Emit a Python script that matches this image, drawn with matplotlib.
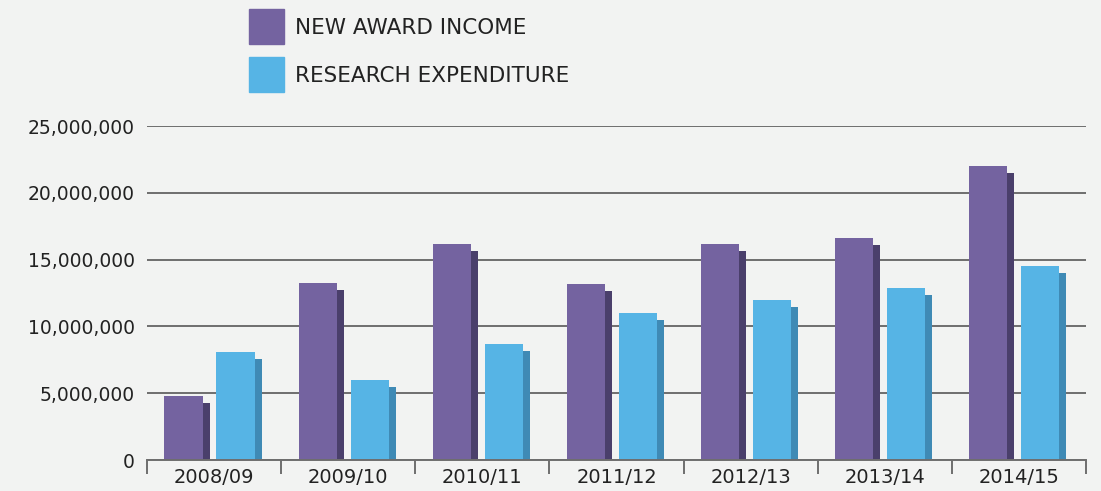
import matplotlib.pyplot as plt
from matplotlib.patches import Rectangle
from matplotlib.ticker import FuncFormatter, FixedLocator
import numpy as np

# Data
years = ["2008/09", "2009/10", "2010/11", "2011/12", "2012/13", "2013/14", "2014/15"]
new_award_income = [4.8e6, 13.25e6, 16.2e6, 13.2e6, 16.2e6, 16.6e6, 22.0e6]
research_expenditure = [8.1e6, 6.0e6, 8.7e6, 11.0e6, 12.0e6, 12.9e6, 14.5e6]
series_labels = ["NEW AWARD INCOME", "RESEARCH EXPENDITURE"]

BG = "#f2f3f2"
PURPLE, PURPLE_DARK = "#7463a0", "#4a3f6b"
BLUE, BLUE_DARK = "#56b4e5", "#3f8ab5"
GRID = "#6e6e6e"
TEXT = "#222222"

BAR_W = 0.284     # front face width (category units)
SIDE_W = 0.052    # shaded side width
SHADOW_DROP = 0.52e6  # side face starts slightly below the front top

plt.rcParams["font.family"] = ["DejaVu Sans"]

W, H = 1101, 491
fig = plt.figure(figsize=(W / 100, H / 100), dpi=100, facecolor=BG)
ax = fig.add_axes([147 / W, 31 / H, (1086 - 147) / W, (460 - 126) / H])
ax.set_facecolor(BG)

x = np.arange(len(years))
inc = np.array(new_award_income)
exp = np.array(research_expenditure)

# purple: side face then front face
ax.bar(x - 0.086, inc - SHADOW_DROP, width=SIDE_W, align="edge", color=PURPLE_DARK, zorder=3)
ax.bar(x - 0.370, inc, width=BAR_W, align="edge", color=PURPLE, zorder=3)
# blue
ax.bar(x + 0.302, exp - SHADOW_DROP, width=SIDE_W, align="edge", color=BLUE_DARK, zorder=3)
ax.bar(x + 0.018, exp, width=BAR_W, align="edge", color=BLUE, zorder=3)

ax.set_xlim(-0.5, len(years) - 0.5)
ax.set_ylim(0, 25e6)
ax.set_yticks(np.arange(0, 25e6 + 1, 5e6))
ax.yaxis.set_major_formatter(FuncFormatter(lambda v, p: f"{int(v):,}"))
ax.grid(axis="y", color=GRID, lw=1.4, zorder=1)
ax.tick_params(axis="y", length=0, pad=9, labelsize=13.5, labelcolor=TEXT)

# category separators as major ticks, labels on minor ticks
ax.xaxis.set_major_locator(FixedLocator(np.arange(-0.5, len(years), 1.0)))
ax.xaxis.set_major_formatter(FuncFormatter(lambda v, p: ""))
ax.xaxis.set_minor_locator(FixedLocator(x))
ax.set_xticklabels(years, minor=True)
ax.tick_params(axis="x", which="major", length=10, width=1.4, color=GRID)
ax.tick_params(axis="x", which="minor", length=0, pad=6, labelsize=14, labelcolor=TEXT)

for s in ["top", "right", "left"]:
    ax.spines[s].set_visible(False)
ax.spines["bottom"].set_color(GRID)
ax.spines["bottom"].set_linewidth(1.4)
ax.spines["bottom"].set_zorder(4)

# legend: square swatches with labels, placed in figure pixels
for i, (lab, col) in enumerate(zip(series_labels, [PURPLE, BLUE])):
    top = 9 + i * 48
    fig.add_artist(Rectangle((249 / W, 1 - (top + 35) / H), 35 / W, 35 / H,
                             transform=fig.transFigure, color=col))
    fig.text(295 / W, 1 - (top + 17.5) / H, lab, fontsize=15.5, color=TEXT,
             ha="left", va="center_baseline")

fig.savefig("out.png", dpi=100, facecolor=BG)
